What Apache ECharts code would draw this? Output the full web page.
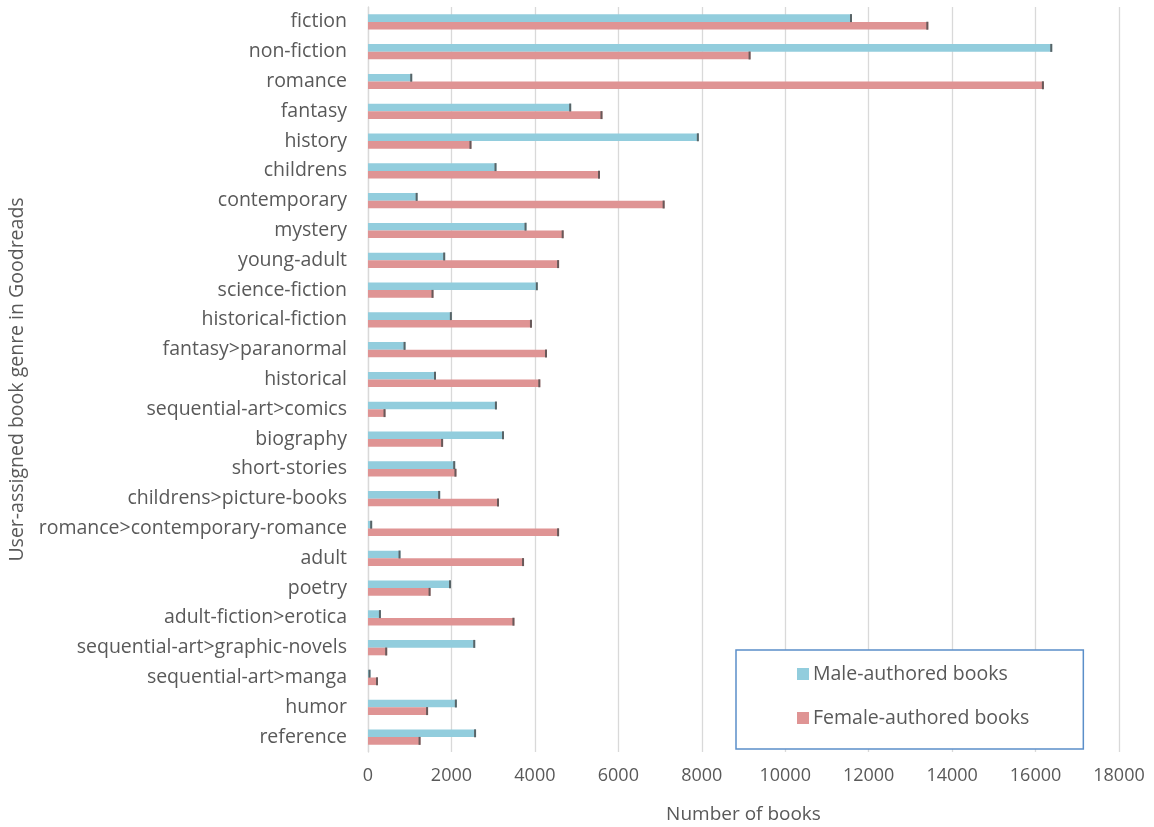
<!DOCTYPE html>
<html><head><meta charset="utf-8">
<script src="https://cdn.jsdelivr.net/npm/echarts@6/dist/echarts.min.js"></script>
<style>html,body{margin:0;padding:0;background:#fff}#c{width:1154px;height:827px}</style>
</head><body><div id="c"></div>
<script>
const categories = ["fiction","non-fiction","romance","fantasy","history","childrens","contemporary","mystery","young-adult","science-fiction","historical-fiction","fantasy>paranormal","historical","sequential-art>comics","biography","short-stories","childrens>picture-books","romance>contemporary-romance","adult","poetry","adult-fiction>erotica","sequential-art>graphic-novels","sequential-art>manga","humor","reference"];
const maleBooks = [11600,16400,1060,4870,7930,3080,1190,3800,1850,4070,2010,900,1630,3090,3260,2090,1730,100,780,1990,310,2570,60,2130,2590];
const femaleBooks = [13430,9170,16200,5620,2480,5560,7110,4690,4580,1570,3930,4290,4130,420,1800,2120,3140,4580,3740,1500,3510,460,240,1440,1260];
const xTicks = [0,2000,4000,6000,8000,10000,12000,14000,16000,18000];

const font = "'Open Sans', sans-serif";
const txt = '#595959';
const chart = echarts.init(document.getElementById('c'));
chart.setOption({
  animation:false,
  textStyle:{fontFamily:font},
  grid:{left:368,right:35,top:7,bottom:75,containLabel:false,outerBoundsMode:'none'},
  legend:{
    data:['Male-authored books','Female-authored books'],
    orient:'vertical', left:736, top:650,
    backgroundColor:'#fff', borderColor:'#5b8fc9', borderWidth:1.5, borderRadius:0,
    padding:[14,54,21,61], itemGap:24, itemWidth:12, itemHeight:12, icon:'rect',
    textStyle:{fontSize:19.5,color:txt,fontFamily:font,padding:[0,0,0,-1]}
  },
  xAxis:{
    type:'value', min:0, max:18000, interval:2000,
    name:'Number of books', nameLocation:'middle', nameGap:53,
    nameTextStyle:{fontSize:19,color:txt},
    axisLine:{show:false}, axisTick:{show:false},
    axisLabel:{fontSize:18,color:txt,margin:15,formatter:v=>String(v)},
    splitLine:{lineStyle:{color:'#d9d9d9',width:1.3}}
  },
  yAxis:{
    type:'category', data:categories, inverse:true,
    name:'User-assigned book genre in Goodreads', nameLocation:'middle', nameGap:340,
    nameTextStyle:{fontSize:19.5,color:txt},
    axisLine:{show:true,lineStyle:{color:'#d9d9d9',width:1.3}}, axisTick:{show:false},
    axisLabel:{fontSize:19.5,color:txt,margin:21}
  },
  series:[
    {name:'Male-authored books',type:'bar',data:maleBooks,barWidth:7.6,barGap:'0%',
     itemStyle:{color:'#92cddd'}},
    {name:'Female-authored books',type:'bar',data:femaleBooks,barWidth:7.6,barGap:'0%',
     itemStyle:{color:'#df9494'}},
    {name:'mcap',type:'scatter',symbol:'rect',symbolSize:[2,8],symbolOffset:[-1,-3.8],
     data:maleBooks.map((v,i)=>[v,categories[i]]),itemStyle:{color:'#4a4a4a'},z:5},
    {name:'fcap',type:'scatter',symbol:'rect',symbolSize:[2,8],symbolOffset:[-1,3.8],
     data:femaleBooks.map((v,i)=>[v,categories[i]]),itemStyle:{color:'#4a4a4a'},z:5}
  ]
});
</script></body></html>
